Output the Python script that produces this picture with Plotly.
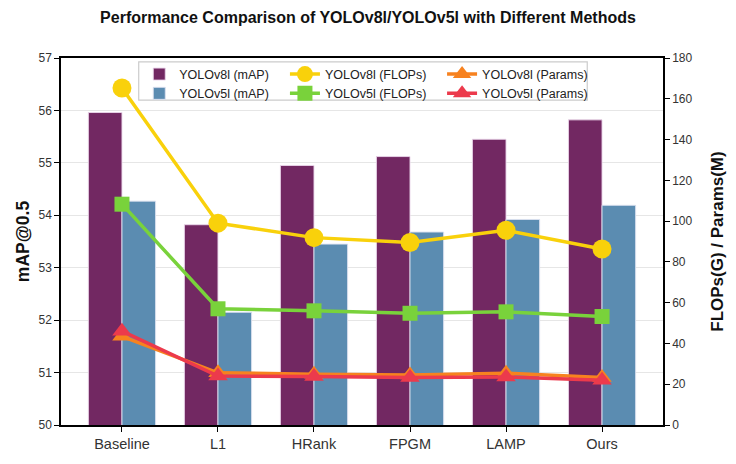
import plotly.graph_objects as go

methods = ["Baseline", "L1", "HRank", "FPGM", "LAMP", "Ours"]
v8_map = [55.96, 53.82, 54.95, 55.12, 55.45, 55.82]
v5_map = [54.27, 52.15, 53.45, 53.68, 53.92, 54.19]
v8_flops = [165.3, 99.0, 91.9, 89.5, 95.5, 86.3]
v5_flops = [108.3, 57.0, 56.0, 54.8, 55.5, 53.2]
v8_params = [43.5, 25.6, 24.9, 24.5, 25.4, 23.3]
v5_params = [46.0, 24.0, 23.8, 23.3, 23.6, 22.0]

C_V8BAR = "#722862"
C_V5BAR = "#5b8cb1"
C_YEL = "#f9d10b"
C_GRN = "#79d23b"
C_ORG = "#f7821f"
C_RED = "#ec3a4c"

FONT = "Liberation Sans, Arial, sans-serif"

fig = go.Figure()

fig.add_trace(go.Bar(x=methods, y=v8_map, name="YOLOv8l (mAP)", legend="legend",
                     marker=dict(color=C_V8BAR, line=dict(color="rgba(235,215,235,0.9)", width=1)),
                     yaxis="y", offsetgroup="a"))
fig.add_trace(go.Bar(x=methods, y=v5_map, name="YOLOv5l (mAP)", legend="legend",
                     marker=dict(color=C_V5BAR, line=dict(color="rgba(220,225,240,0.9)", width=1)),
                     yaxis="y", offsetgroup="b"))
fig.add_trace(go.Scatter(x=methods, y=v8_flops, name="YOLOv8l (FLOPs)", mode="lines+markers",
                         legend="legend2", line=dict(color=C_YEL, width=3.5),
                         marker=dict(symbol="circle", size=19, color=C_YEL), yaxis="y2"))
fig.add_trace(go.Scatter(x=methods, y=v5_flops, name="YOLOv5l (FLOPs)", mode="lines+markers",
                         legend="legend2", line=dict(color=C_GRN, width=3.5),
                         marker=dict(symbol="square", size=15, color=C_GRN), yaxis="y2"))
fig.add_trace(go.Scatter(x=methods, y=v8_params, name="YOLOv8l (Params)", mode="lines+markers",
                         legend="legend3", line=dict(color=C_ORG, width=3.5),
                         marker=dict(symbol="triangle-up", size=17, color=C_ORG), yaxis="y2"))
fig.add_trace(go.Scatter(x=methods, y=v5_params, name="YOLOv5l (Params)", mode="lines+markers",
                         legend="legend3", line=dict(color=C_RED, width=3.5),
                         marker=dict(symbol="triangle-up", size=17, color=C_RED), yaxis="y2"))

leg_common = dict(orientation="v", y=0.996, yanchor="top", xanchor="left",
                  bgcolor="rgba(0,0,0,0)", borderwidth=0, traceorder="normal",
                  font=dict(size=12.5, color="#222222", family=FONT))

fig.update_layout(
    width=736, height=464,
    margin=dict(l=61, r=63, t=58, b=32),
    paper_bgcolor="white", plot_bgcolor="white",
    font=dict(family=FONT, size=12, color="#333333"),
    title=dict(text="<b>Performance Comparison of YOLOv8l/YOLOv5l with Different Methods</b>",
               x=0.5, xanchor="center", y=1 - 17 / 464, yanchor="middle", yref="container",
               font=dict(size=16, color="#111111", family=FONT)),
    barmode="group", bargap=0.3, bargroupgap=0,
    showlegend=True,
    legend=dict(x=0.130, **leg_common),
    legend2=dict(x=0.372, **leg_common),
    legend3=dict(x=0.633, **leg_common),
    shapes=[dict(type="rect", xref="paper", yref="paper",
                 x0=(140 - 61) / 612, x1=(596 - 61) / 612,
                 y0=(432 - 101) / 374, y1=(432 - 62) / 374,
                 line=dict(color="#cccccc", width=1.2),
                 fillcolor="rgba(255,255,255,0.85)", layer="above")],
    xaxis=dict(range=[-0.635, 5.635], showline=True, linecolor="black", linewidth=1.5,
               mirror=True, ticks="outside", ticklen=5, tickcolor="black",
               tickfont=dict(size=14.5, color="#333333"), showgrid=False),
    yaxis=dict(range=[50, 57], dtick=1, showline=True, linecolor="black", linewidth=1.5,
               ticks="outside", ticklen=5, tickcolor="black", showgrid=True,
               gridcolor="#e6e6e6", gridwidth=1.2, zeroline=False,
               tickfont=dict(size=12, color="#333333"),
               title=dict(text="<b>mAP@0.5</b>", font=dict(size=17.5, color="#111111"), standoff=4)),
    yaxis2=dict(range=[0, 180], dtick=20, overlaying="y", side="right", showline=True,
                linecolor="black", linewidth=1.5, ticks="outside", ticklen=5, tickcolor="black",
                showgrid=False, zeroline=False, tickfont=dict(size=12, color="#333333"),
                title=dict(text="<b>FLOPs(G) / Params(M)</b>", font=dict(size=17, color="#111111"),
                           standoff=20)),
)

fig.write_html("out.html")
